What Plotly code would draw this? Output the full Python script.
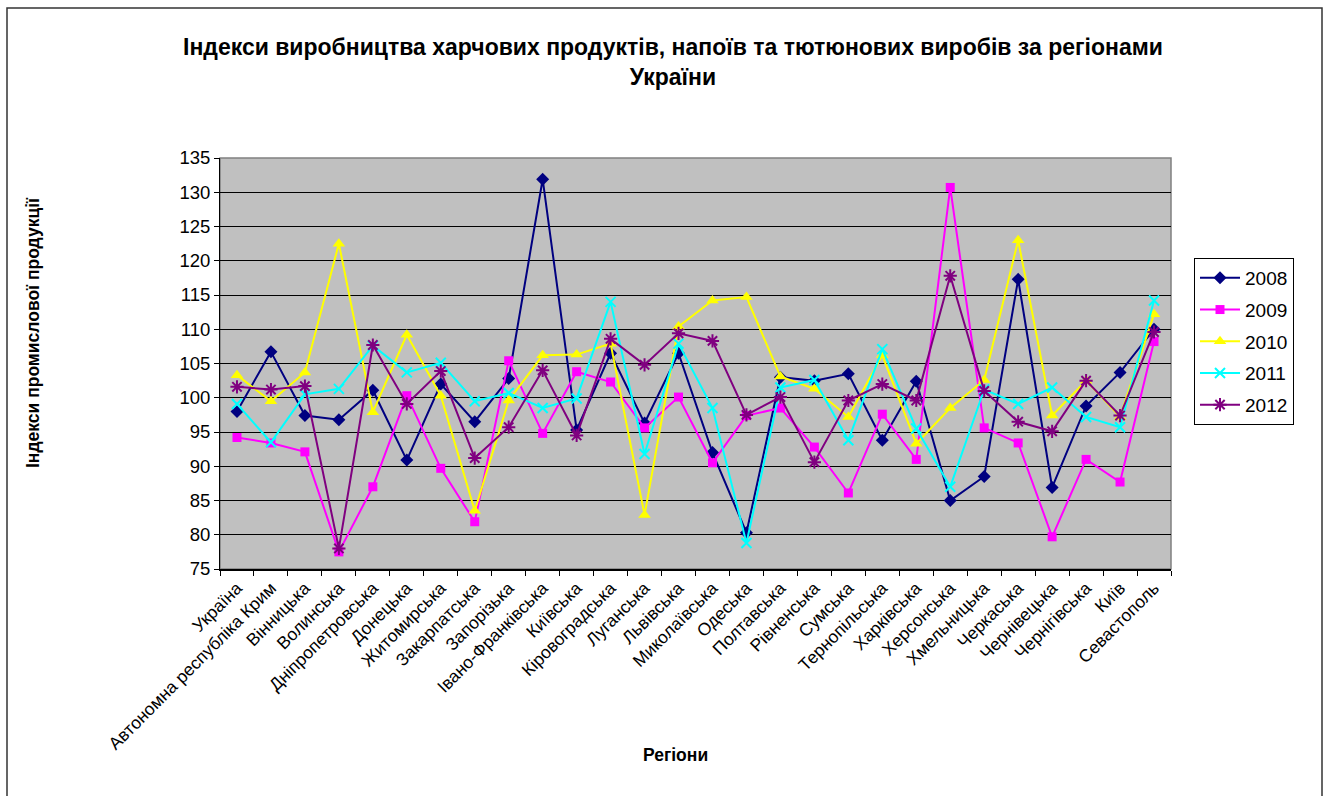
import plotly.graph_objects as go

regions = ["Україна", "Автономна республіка Крим", "Вінницька", "Волинська",
           "Дніпропетровська", "Донецька", "Житомирська", "Закарпатська",
           "Запорізька", "Івано-Франківська", "Київська", "Кіровоградська",
           "Луганська", "Львівська", "Миколаївська", "Одеська", "Полтавська",
           "Рівненська", "Сумська", "Тернопільська", "Харківська", "Херсонська",
           "Хмельницька", "Черкаська", "Чернівецька", "Чернігівська", "Київ",
           "Севастополь"]

v2008 = [98.0, 106.7, 97.4, 96.8, 101.1, 90.9, 102.0, 96.5, 102.8, 131.9,
         95.3, 106.5, 96.3, 106.5, 92.0, 80.3, 103.0, 102.5, 103.5, 93.8,
         102.4, 85.0, 88.5, 117.3, 86.9, 98.8, 103.7, 110.0]
v2009 = [94.2, 93.4, 92.1, 77.5, 87.0, 100.3, 89.7, 81.9, 105.4, 94.8,
         103.8, 102.3, 95.6, 100.1, 90.5, 97.4, 98.5, 92.8, 86.1, 97.6,
         91.0, 130.7, 95.6, 93.4, 79.7, 91.0, 87.7, 108.2]
v2010 = [103.3, 99.5, 103.7, 122.5, 97.9, 109.2, 100.3, 83.5, 99.6, 106.2,
         106.3, 107.9, 82.9, 110.4, 114.2, 114.7, 103.1, 101.3, 97.2, 106.2,
         93.3, 98.5, 102.6, 123.0, 97.4, 102.5, 97.2, 112.2]
v2011 = [99.1, 93.5, 100.5, 101.3, 107.6, 103.7, 105.1, 99.5, 100.7, 98.5,
         99.9, 114.0, 91.8, 107.9, 98.5, 78.8, 101.5, 102.6, 93.8, 107.1,
         95.5, 87.0, 101.2, 99.1, 101.5, 97.2, 95.7, 114.2]
v2012 = [101.6, 101.2, 101.7, 78.0, 107.7, 99.1, 103.9, 91.2, 95.7, 104.0,
         94.5, 108.6, 104.8, 109.4, 108.3, 97.5, 100.1, 90.6, 99.6, 102.0,
         99.6, 117.8, 101.0, 96.5, 95.1, 102.5, 97.4, 109.6]

years = ["2008", "2009", "2010", "2011", "2012"]
series = [v2008, v2009, v2010, v2011, v2012]
colors = ["#000080", "#FF00FF", "#FFFF00", "#00FFFF", "#800080"]
symbols = ["diamond", "square", "triangle-up", "x-thin", "asterisk"]
msizes = [10, 9, 11, 10, 11]

fig = go.Figure()
for name, vals, col, sym, ms in zip(years, series, colors, symbols, msizes):
    fig.add_trace(go.Scatter(
        x=regions, y=vals, name=name, mode="lines+markers",
        legendgroup=name,
        line=dict(color=col, width=2),
        marker=dict(symbol=sym, size=ms, color=col,
                    line=dict(color=col, width=2 if sym in ("x-thin", "asterisk") else 0)),
    ))

L, R, T, B = 220, 1171, 158, 569
W, H = 1328, 796

def px2x(px):
    return (px - L) / (R - L)

def px2y(py):
    return (B - py) / (B - T)

fig.update_layout(
    width=W, height=H,
    margin=dict(l=L, r=W - R, t=T, b=H - B),
    paper_bgcolor="white", plot_bgcolor="#C0C0C0",
    font=dict(family="Liberation Sans, Arial, sans-serif", color="black"),
    showlegend=True,
    legend=dict(
        x=px2x(1194), y=px2y(258), xanchor="left", yanchor="top",
        bordercolor="black", borderwidth=1, bgcolor="white",
        font=dict(size=19), traceorder="grouped", tracegroupgap=4,
        itemwidth=40,
    ),
    xaxis=dict(
        type="category", tickangle=-45, tickson="boundaries",
        ticks="outside", ticklen=5, tickcolor="black",
        showline=True, linecolor="black", linewidth=2,
        showgrid=False, tickfont=dict(size=17.5), range=[-0.5, 27.5],
    ),
    yaxis=dict(
        range=[75, 135], dtick=5, tick0=75,
        ticks="outside", ticklen=5, tickcolor="black",
        showline=True, linecolor="black", linewidth=1,
        showgrid=True, gridcolor="black", gridwidth=1,
        tickfont=dict(size=18.5), zeroline=False,
    ),
    shapes=[
        dict(type="rect", xref="paper", yref="paper", x0=0, x1=1, y0=0, y1=1,
             line=dict(color="#808080", width=1.5), layer="below"),
        dict(type="rect", xref="paper", yref="paper",
             x0=px2x(7), x1=px2x(1322), y0=px2y(8), y1=px2y(830),
             line=dict(color="#333333", width=1.5)),
    ],
    annotations=[
        dict(text="<b>Індекси виробництва харчових продуктів, напоїв та тютюнових виробів за регіонами<br>України</b>",
             xref="paper", yref="paper", x=px2x(673), y=px2y(62), xanchor="center", yanchor="middle",
             showarrow=False, font=dict(size=23, family="Liberation Sans, Arial"),
             align="center"),
        dict(text="<b>Індекси промислової продукції</b>", xref="paper", yref="paper",
             x=px2x(33), y=px2y(333), xanchor="center", yanchor="middle",
             textangle=-90, showarrow=False, font=dict(size=17.5)),
        dict(text="<b>Регіони</b>", xref="paper", yref="paper",
             x=px2x(675), y=px2y(755), xanchor="center", yanchor="middle",
             showarrow=False, font=dict(size=17.5)),
    ],
)

fig.write_html("out.html", config={"displayModeBar": False},
               post_script="document.body.style.margin='0';document.body.style.overflow='hidden';")
